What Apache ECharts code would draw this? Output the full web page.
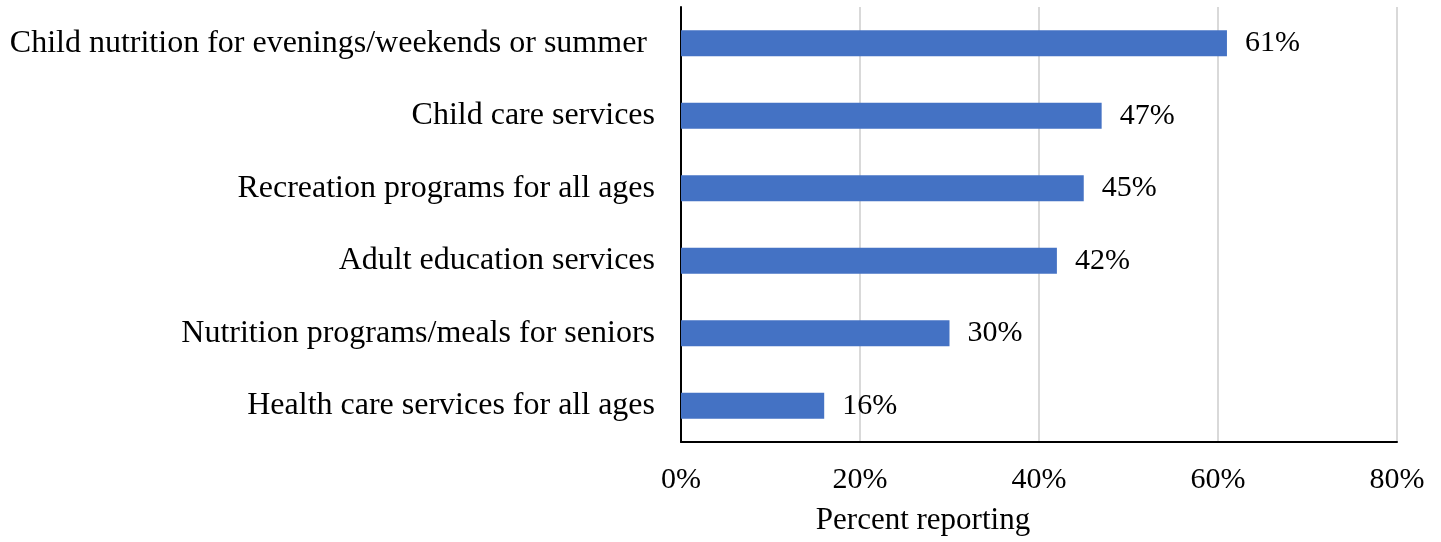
<!DOCTYPE html>
<html>
<head>
<meta charset="utf-8">
<script src="https://cdn.jsdelivr.net/npm/echarts@6/dist/echarts.min.js"></script>
<style>html,body{margin:0;padding:0;background:#fff}#c{width:1441px;height:542px}</style>
</head>
<body>
<div id="c"></div>
<script>
var categories = [
  "Child nutrition for evenings/weekends or summer ",
  "Child care services",
  "Recreation programs for all ages",
  "Adult education services",
  "Nutrition programs/meals for seniors",
  "Health care services for all ages"
];
var values = [61, 47, 45, 42, 30, 16];
var xTicks = [0, 20, 40, 60, 80];
var axisTitle = "Percent reporting";

var FONT = "Liberation Serif";
var chart = echarts.init(document.getElementById('c'));
chart.setOption({
  animation: false,
  grid: {left: 681, right: 44, top: 7, bottom: 100, containLabel: false},
  xAxis: {
    type: 'value', min: xTicks[0], max: xTicks[xTicks.length - 1], interval: 20,
    axisLine: {show: true, lineStyle: {color: '#000', width: 2}},
    axisTick: {show: false},
    splitLine: {show: true, lineStyle: {color: '#d9d9d9', width: 2}},
    axisLabel: {color: '#000', fontFamily: FONT, fontSize: 30, margin: 23,
      formatter: function (v) { return v + '%'; }}
  },
  yAxis: {
    type: 'category', inverse: true, data: categories,
    axisLine: {show: true, lineStyle: {color: '#000', width: 2}},
    axisTick: {show: false},
    axisLabel: {color: '#000', fontFamily: FONT, fontSize: 32, margin: 26}
  },
  series: [{
    type: 'bar', data: values, barWidth: 26,
    itemStyle: {color: '#4472C4'},
    label: {show: true, position: 'right', distance: 18, color: '#000',
      fontFamily: FONT, fontSize: 30, formatter: '{c}%'}
  }],
  graphic: [{
    type: 'text', x: 923, y: 521,
    style: {text: axisTitle, fill: '#000', font: '31px "Liberation Serif"',
      textAlign: 'center', textVerticalAlign: 'middle'}
  }]
});
</script>
</body>
</html>
